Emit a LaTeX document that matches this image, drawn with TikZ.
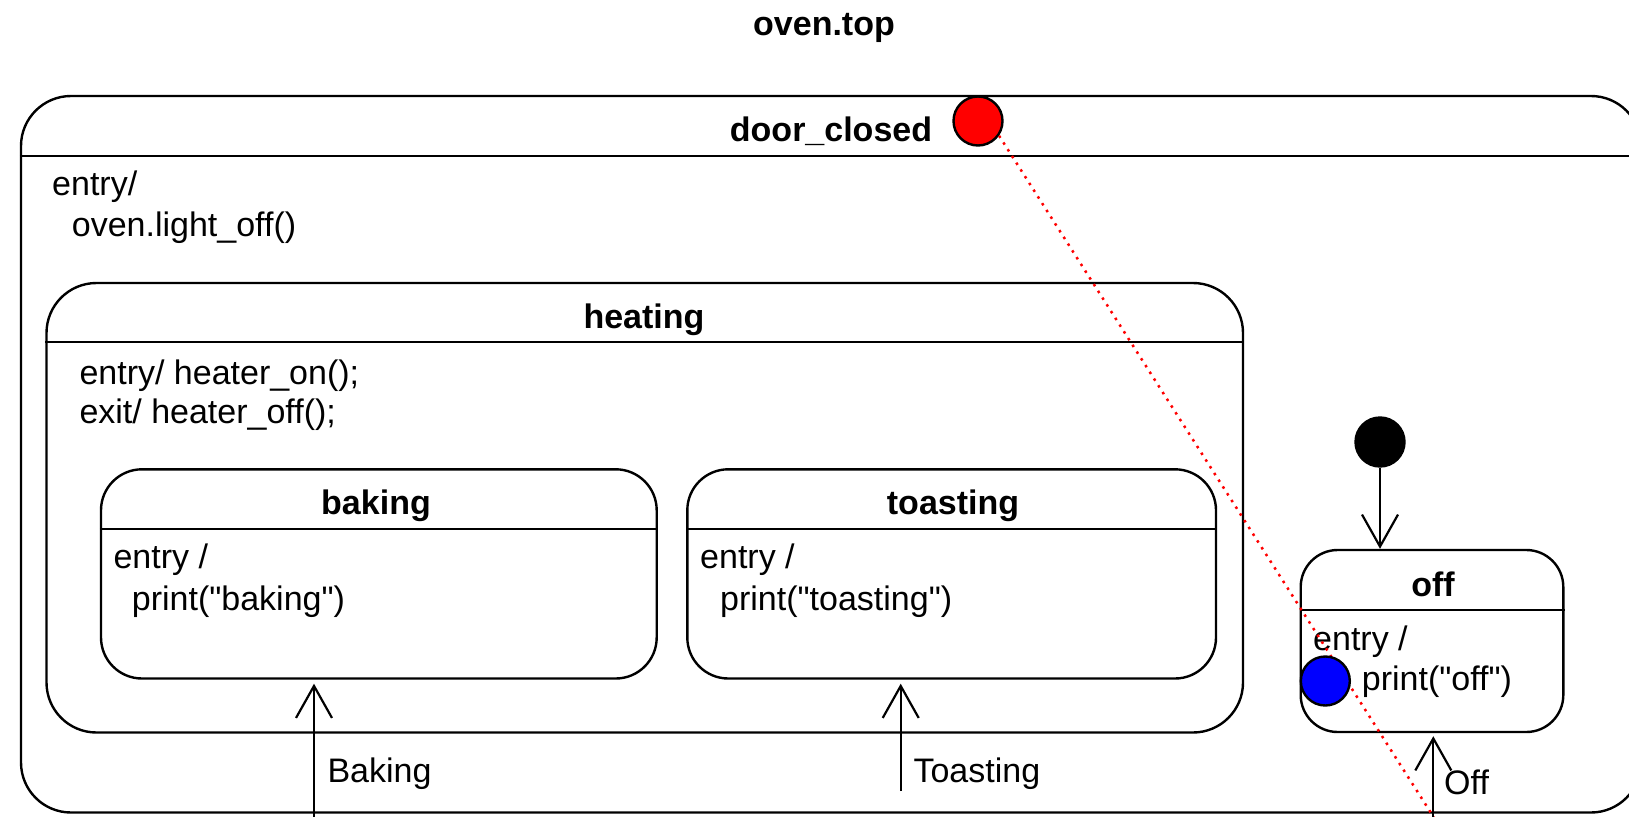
\documentclass[tikz,border=0pt]{standalone}
\usepackage{fontspec}
\setmainfont{Liberation Sans}[Ligatures=TeXOff]
\usetikzlibrary{arrows.meta}
\tikzset{
  statebox/.style={draw, line width=2.4pt, rounded corners=#1, rectangle, inner sep=0pt},
  hdr/.style={line width=2.4pt},
  ttl/.style={font=\fontsize{34pt}{40pt}\selectfont\bfseries, inner sep=0pt, anchor=base},
  txt/.style={font=\fontsize{34pt}{40pt}\selectfont, inner sep=0pt, anchor=base west},
  pseudo/.style={circle, draw, line width=2.4pt, minimum size=49pt, inner sep=0pt},
  trans/.style={line width=2.2pt, -{Straight Barb[length=32pt,width=36pt,line width=2.2pt]}},
  reddots/.style={draw=red, line width=2.5pt, dash pattern=on 2.5pt off 5.5pt}
}
\begin{document}
\begin{tikzpicture}[x=1pt,y=-1pt]
\useasboundingbox (0,0) rectangle (1629,816);
% title
\node[ttl] (top) at (824,35.5) {oven.top};
% door_closed
\node[statebox=50pt, minimum width=1620pt, minimum height=716.5pt] (door) at (831,454.25) {};
\draw[hdr] (door.west |- 0,156) -- (door.east |- 0,156);
\node[ttl] (doort) at (831,141.5) {door\_closed};
\node[txt] (doore1) at (52,195.5) {entry/};
\node[txt] (doore2) at (71.7,236.5) {oven.light\_off()};
% heating
\node[statebox=50pt, minimum width=1196.5pt, minimum height=449.5pt] (heating) at (644.75,507.75) {};
\draw[hdr] (heating.west |- 0,342) -- (heating.east |- 0,342);
\node[ttl] (heatt) at (644,328) {heating};
\node[txt] (heate1) at (79.3,384.5) {entry/ heater\_on();};
\node[txt] (heate2) at (79.3,423.5) {exit/ heater\_off();};
% baking
\node[statebox=41pt, minimum width=555.7pt, minimum height=209.2pt] (baking) at (378.85,573.9) {};
\draw[hdr] (baking.west |- 0,529) -- (baking.east |- 0,529);
\node[ttl] (bakt) at (376,514.5) {baking};
\node[txt] (bake1) at (113.3,568.5) {entry /};
\node[txt] (bake2) at (131.7,610.5) {print("baking")};
% toasting
\node[statebox=41pt, minimum width=528.7pt, minimum height=209.2pt] (toasting) at (951.65,573.9) {};
\draw[hdr] (toasting.west |- 0,529) -- (toasting.east |- 0,529);
\node[ttl] (toat) at (953,514.5) {toasting};
\node[txt] (toae1) at (700,568.5) {entry /};
\node[txt] (toae2) at (720,610.5) {print("toasting")};
% off
\node[statebox=37pt, minimum width=262.6pt, minimum height=182pt] (off) at (1432,641) {};
\draw[hdr] (off.west |- 0,610) -- (off.east |- 0,610);
\node[ttl] (offt) at (1433,596.5) {off};
\node[txt] (offe1) at (1313,650.5) {entry /};
\node[txt] (offe2) at (1361.7,690.5) {print("off")};
% pseudo states
\node[pseudo, fill=red] (hist) at (978,121) {};
\node[pseudo, fill=black] (init) at (1380,442) {};
% red dotted connector
\coordinate (redend) at (1435.5,820);
\draw[reddots] (hist.-35) -- (redend);
\node[pseudo, fill=blue] (blue) at (1325.3,681) {};
% transitions
\draw[trans] (init) -- (init |- off.north);
\coordinate (bk0) at (314,820);
\draw[trans, shorten >=4pt] (bk0) -- (bk0 |- baking.south);
\node[txt] (bakl) at (327.3,782.5) {Baking};
\coordinate (ts0) at (900.7,791);
\draw[trans, shorten >=4pt] (ts0) -- (ts0 |- toasting.south);
\node[txt] (toal) at (913.3,782.5) {Toasting};
\coordinate (of0) at (1433.3,820);
\draw[trans, shorten >=3pt] (of0) -- (of0 |- off.south);
\node[txt] (offl) at (1444,794) {Off};
\end{tikzpicture}
\end{document}
